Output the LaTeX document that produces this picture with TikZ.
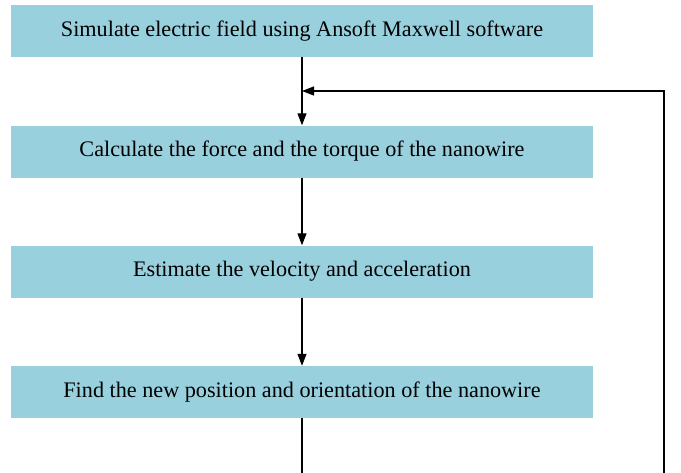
\documentclass[tikz,border=0pt]{standalone}
\usepackage{fontspec}
\setmainfont{Liberation Serif}
\usetikzlibrary{arrows.meta}
\definecolor{boxblue}{HTML}{99D0DE}
\begin{document}
\begin{tikzpicture}[x=1pt,y=1pt,
  stepbox/.style={fill=boxblue, draw=none, minimum width=582pt, minimum height=52pt, inner sep=0pt, font=\fontsize{22.2}{25}\selectfont},
  conn/.style={line width=1.2pt, -{Triangle[length=12pt,width=9pt]}},
  plain/.style={line width=1.2pt}]
\useasboundingbox (0,0) rectangle (681,-472);
\node[stepbox] (s1) at (302,-31) {Simulate electric field using Ansoft Maxwell software};
\node[stepbox] (s2) at (302,-151.5) {Calculate the force and the torque of the nanowire};
\node[stepbox] (s3) at (302,-271.5) {Estimate the velocity and acceleration};
\node[stepbox] (s4) at (302,-392) {Find the new position and orientation of the nanowire};
\coordinate (b1) at (302,-473);
\coordinate (b2) at (664,-473);
\coordinate (j) at (664,-91);
\coordinate (m) at (302,-91);
\draw[conn] (s1) -- (s2);
\draw[conn] (s2) -- (s3);
\draw[conn] (s3) -- (s4);
\draw[plain] (s4) -- (b1);
\draw[conn] (b2) -- (j) -- (m);
\end{tikzpicture}
\end{document}
